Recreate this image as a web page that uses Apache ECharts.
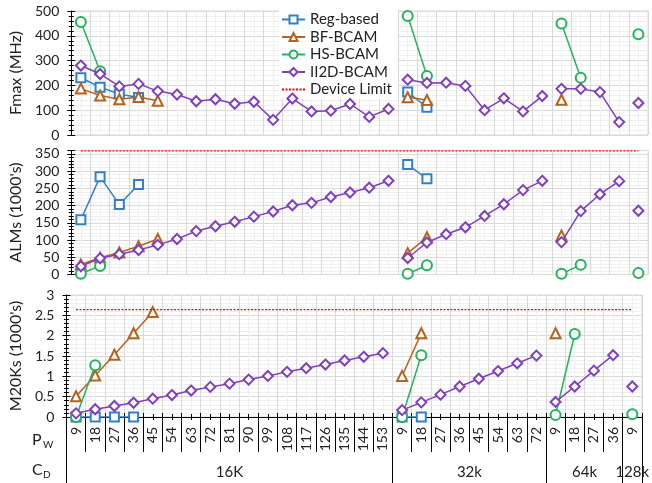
<!DOCTYPE html>
<html><head><meta charset="utf-8">
<script src="https://cdn.jsdelivr.net/npm/echarts@6/dist/echarts.min.js"></script>
<style>html,body{margin:0;padding:0;background:#fff}#c{width:652px;height:483px}</style>
</head><body><div id="c"></div>
<script>
// ---------- data ----------
const groupNames = ['16K', '32k', '64k', '128k'];
const groupTicks = [
  [9, 18, 27, 36, 45, 54, 63, 72, 81, 90, 99, 108, 117, 126, 135, 144, 153],
  [9, 18, 27, 36, 45, 54, 63, 72],
  [9, 18, 27, 36],
  [9]
];
const seriesNames = ['Reg-based', 'BF-BCAM', 'HS-BCAM', 'II2D-BCAM', 'Device Limit'];

// Fmax (MHz), one array per CD group
const fmaxReg  = [[231, 193, 165, 151], [173, 112], [], []];
const fmaxBF   = [[187, 159, 144, 153, 138], [152, 141], [142], []];
const fmaxHS   = [[456, 257], [480, 238], [450, 231], [406]];
const fmaxII2D = [[280, 246, 196, 206, 177, 163, 136, 144, 126, 134, 61, 147, 95, 98, 125, 73, 105],
                  [223, 210, 211, 198, 100, 148, 95, 157], [186, 186, 173, 52], [129]];

// ALMs (1000's)
const almReg  = [[159, 284, 203, 261], [319, 278], [], []];
const almBF   = [[29, 49, 64, 82, 103], [62, 108], [113], []];
const almHS   = [[2, 25], [2, 27], [2, 28], [4]];
const almII2D = [[24, 47, 59, 71, 86, 103, 126, 140, 153, 168, 183, 201, 208, 225, 238, 252, 272],
                 [48, 93, 117, 137, 170, 204, 245, 272], [94, 184, 233, 271], [185]];
const almDeviceLimit = 359.2;

// M20Ks (1000's)
const m20kReg  = [[0, 0, 0, 0], [0, 0], [], []];
const m20kBF   = [[0.51, 1.02, 1.53, 2.06, 2.58], [1.01, 2.06], [2.06], []];
const m20kHS   = [[0, 1.27], [0, 1.52], [0.05, 2.04], [0.07]];
const m20kII2D = [[0.09, 0.19, 0.27, 0.35, 0.45, 0.54, 0.65, 0.74, 0.82, 0.92, 1.01, 1.11, 1.2, 1.29, 1.39, 1.48, 1.57],
                  [0.17, 0.36, 0.55, 0.75, 0.94, 1.13, 1.32, 1.51], [0.37, 0.75, 1.14, 1.52], [0.75]];
const m20kDeviceLimit = 2.64;

// ---------- build ----------
const FONT = 'Lato';
const categories = [].concat(...groupTicks).map(String);
const N = categories.length;
const offsets = [];
{ let o = 0; groupTicks.forEach(g => { offsets.push(o); o += g.length; }); }
const groupBoundaries = offsets.slice();
const groupLabelAt = {}; // index -> [name, shift]
groupTicks.forEach((g, i) => {
  const mid = offsets[i] + (g.length - 1) / 2;
  const idx = Math.floor(mid);
  groupLabelAt[idx] = [groupNames[i], mid - idx];
});

const styles = {
  'Reg-based': { color: '#2F80CC', symbol: 'emptyRect', size: 9 },
  'BF-BCAM':   { color: '#B5621F', symbol: 'emptyTriangle', size: 10 },
  'HS-BCAM':   { color: '#22B35C', symbol: 'emptyCircle', size: 10 },
  'II2D-BCAM': { color: '#7F3FBF', symbol: 'emptyDiamond', size: 10 }
};

const panels = [
  { data: [fmaxReg, fmaxBF, fmaxHS, fmaxII2D], limit: null },
  { data: [almReg, almBF, almHS, almII2D], limit: almDeviceLimit },
  { data: [m20kReg, m20kBF, m20kHS, m20kII2D], limit: m20kDeviceLimit }
];
const catAxisIdx = [0, 2, 4];
const valAxisIdx = [0, 2, 4];

const series = [];
panels.forEach((p, pi) => {
  p.data.forEach((groups, si) => {
    const name = seriesNames[si];
    const st = styles[name];
    groups.forEach((vals, gi) => {
      if (!vals.length) return;
      const d = new Array(N).fill(null);
      vals.forEach((v, j) => { d[offsets[gi] + j] = v; });
      series.push({
        type: 'line', name, data: d, xAxisIndex: catAxisIdx[pi], yAxisIndex: valAxisIdx[pi],
        symbol: st.symbol, symbolSize: st.size, showAllSymbol: true, connectNulls: false,
        lineStyle: { color: st.color, width: 1.5 }, itemStyle: { color: st.color, borderWidth: 1.3 },
        z: 3 + si, animation: false
      });
    });
  });
  if (p.limit !== null) {
    series.push({
      type: 'line', name: 'Device Limit', data: categories.map(() => p.limit),
      xAxisIndex: catAxisIdx[pi], yAxisIndex: valAxisIdx[pi], symbol: 'none',
      lineStyle: { color: '#FF0000', width: 1.3, type: [2, 1.5] }, itemStyle: { color: '#FF0000' },
      z: 8, animation: false
    });
  }
});

const grids = [
  { left: 64, right: 4, top: 11, height: 124 },
  { left: 64, right: 4, top: 150.5, height: 124 },
  { left: 64, right: 4, top: 295, height: 122 }
].map(g => Object.assign(g, { show: true, borderColor: '#d9d9d9', borderWidth: 1, containLabel: false }));

const hiddenCat = gi => ({
  type: 'category', gridIndex: gi, data: categories, position: 'bottom', boundaryGap: true,
  axisLine: { show: false, onZero: false }, axisTick: { show: false }, axisLabel: { show: false }, splitLine: { show: false }
});
const gridValX = (gi, extra) => Object.assign({
  type: 'value', gridIndex: gi, min: 0, max: N, interval: 1, position: 'bottom',
  axisLine: { show: false, onZero: false }, axisLabel: { show: false }, axisTick: { show: false },
  minorTick: { show: false, splitNumber: 2 },
  splitLine: { show: true, lineStyle: { color: '#d9d9d9', width: 1 } },
  minorSplitLine: { show: true, lineStyle: { color: '#f0f0f0', width: 1 } }
}, extra || {});

const xAxis = [
  hiddenCat(0), gridValX(0),
  hiddenCat(1), gridValX(1),
  {
    type: 'category', gridIndex: 2, data: categories, position: 'bottom', boundaryGap: true,
    axisLine: { show: true, onZero: false, lineStyle: { color: '#000', width: 1 } },
    axisTick: { show: true, interval: 0, length: 35, lineStyle: { color: '#000', width: 1 } },
    axisLabel: { show: true, interval: 0, rotate: 90, margin: 10, fontSize: 14, color: '#222', fontFamily: FONT },
    splitLine: { show: false }
  },
  gridValX(2, {
    axisTick: { show: true, inside: true, length: 4, lineStyle: { color: '#000' } },
    minorTick: { show: true, splitNumber: 2, length: 3, lineStyle: { color: '#000' } }
  }),
  gridValX(2, {
    splitLine: { show: false }, minorSplitLine: { show: false },
    axisTick: { show: false },
    minorTick: { show: true, splitNumber: 2, length: 3, lineStyle: { color: '#000' } }
  }),
  {
    type: 'category', gridIndex: 2, data: categories, position: 'bottom', boundaryGap: true,
    axisLine: { show: false, onZero: false },
    axisTick: { show: true, interval: (i) => groupBoundaries.includes(i), length: 66, lineStyle: { color: '#000', width: 1 } },
    axisLabel: {
      show: true, interval: 0, margin: 48, fontSize: 15, color: '#222', fontFamily: FONT,
      formatter: (v, i) => groupLabelAt[i] ? (groupLabelAt[i][1] > 0 ? '{s|' + groupLabelAt[i][0] + '}' : groupLabelAt[i][0]) : '',
      rich: { s: { fontSize: 15, color: '#222', fontFamily: FONT, padding: [0, 0, 0, 19.5] } }
    },
    splitLine: { show: false }
  }
];

const mainY = (gi, min, max, interval, name, extra) => Object.assign({
  type: 'value', gridIndex: gi, min, max, interval, position: 'left',
  name, nameLocation: 'middle', nameGap: 40,
  nameTextStyle: { fontSize: 16, color: '#222', fontFamily: FONT },
  axisLine: { show: true, lineStyle: { color: '#000', width: 1 } },
  axisTick: { show: true, length: 4, lineStyle: { color: '#000' } },
  minorTick: { show: true, splitNumber: 5, length: 2.5, lineStyle: { color: '#000' } },
  axisLabel: { margin: 12, fontSize: 14, color: '#222', fontFamily: FONT },
  splitLine: { show: true, lineStyle: { color: '#d9d9d9' } },
  minorSplitLine: { show: true, lineStyle: { color: '#f0f0f0' } }
}, extra || {});
const innerY = (gi, min, max, interval) => ({
  type: 'value', gridIndex: gi, min, max, interval, position: 'left',
  axisLine: { show: false }, axisLabel: { show: false },
  axisTick: { show: true, inside: true, length: 4, lineStyle: { color: '#000' } },
  minorTick: { show: true, splitNumber: 5, length: 2.5, lineStyle: { color: '#000' } },
  splitLine: { show: false }, minorSplitLine: { show: false }
});

const yAxis = [
  mainY(0, 0, 500, 100, 'Fmax (MHz)'), innerY(0, 0, 500, 100),
  mainY(1, 0, 360, 50, "ALMs (1000's)", { axisLabel: { margin: 12, fontSize: 14, color: '#222', fontFamily: FONT, showMaxLabel: false } }),
  innerY(1, 0, 360, 50),
  mainY(2, 0, 3, 0.5, "M20Ks (1000's)"), innerY(2, 0, 3, 0.5)
];

const legendData = seriesNames.map(n => n === 'Device Limit'
  ? { name: n, itemStyle: { color: 'rgba(0,0,0,0)', borderColor: 'rgba(0,0,0,0)', opacity: 0 } }
  : n);

const chart = echarts.init(document.getElementById('c'), null, { renderer: 'canvas' });
chart.setOption({
  backgroundColor: '#fff',
  animation: false,
  textStyle: { fontFamily: FONT },
  grid: grids,
  xAxis, yAxis, series,
  legend: {
    data: legendData, orient: 'vertical', left: 279, top: 10,
    itemWidth: 23, itemHeight: 10, itemGap: 2.5,
    backgroundColor: '#fff', padding: [2, 6, 2, 2],
    textStyle: { fontSize: 15, color: '#222', fontFamily: FONT }
  },
  graphic: [
    { type: 'text', left: 32, top: 432, style: { text: 'P', fontSize: 16, fill: '#222', fontFamily: FONT } },
    { type: 'text', left: 43, top: 440, style: { text: 'W', fontSize: 10, fill: '#222', fontFamily: FONT } },
    { type: 'text', left: 32, top: 462, style: { text: 'C', fontSize: 16, fill: '#222', fontFamily: FONT } },
    { type: 'text', left: 43, top: 470, style: { text: 'D', fontSize: 10, fill: '#222', fontFamily: FONT } }
  ]
});
</script>
</body></html>
